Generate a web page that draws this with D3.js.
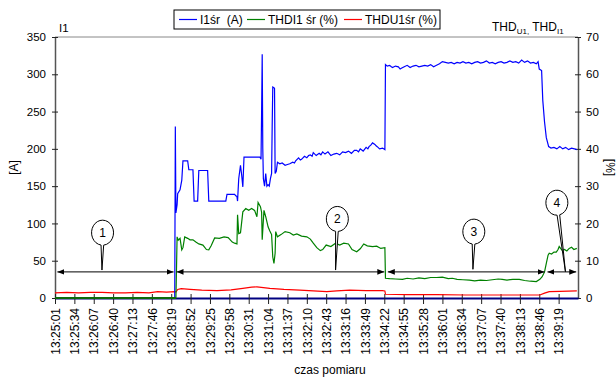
<!DOCTYPE html>
<html>
<head>
<meta charset="utf-8">
<script src="https://cdn.jsdelivr.net/npm/d3@7"></script>
<style>
  body { margin: 0; background: #fff; }
  svg { font-family: "Liberation Sans", Arial, sans-serif; }
  .axis text { font-size: 11.5px; fill: #000; }
  .xaxis text { font-size: 12px; }
</style>
</head>
<body>
<div id="chart"></div>
<script>
// seconds since 13:25:01, label every 33 s
const timeLabels = ['13:25:01','13:25:34','13:26:07','13:26:40','13:27:13','13:27:46','13:28:19',
  '13:28:52','13:29:25','13:29:58','13:30:31','13:31:04','13:31:37','13:32:10','13:32:43',
  '13:33:16','13:33:49','13:34:22','13:34:55','13:35:28','13:36:01','13:36:34','13:37:07',
  '13:37:40','13:38:13','13:38:46','13:39:19'];
const tickStep = 33;
const xMax = 891;

// I1 [s, A]
const i1Data = [[0,0],[204,0],[205,230],[206,114],[208,125],[209,140],[213,145],[216,158],[218,184],
  [221,184],[226,184],[228,172],[235,172],[237,130],[243,130],[245,171],[260,171],[262,130],[291,130],
  [293,139],[306,139],[308,137],[310,136],[311,130],[313,160],[316,178],[318,165],[320,149],[322,189],
  [335,189],[349,189],[351,186],[352,250],[353,327],[354,200],[355,160],[357,150],[359,167],[361,150],
  [363,152],[365,150],[367,160],[369,167],[370,230],[371,283],[373,282],[374,281],[375,167],[377,170],
  [379,182],[383,180],[387,181],[392,178],[396,179],[400,180],[405,182],[408,181],[410,184],[415,188],
  [418,185],[420,186],[425,190],[429,188],[432,191],[435,192],[438,190],[440,195],[445,191],[450,194],
  [453,192],[456,196],[460,193],[465,196],[470,191],[475,193],[480,194],[485,192],[490,196],[495,195],
  [500,197],[505,194],[510,198],[514,198],[517,196],[520,200],[525,197],[530,202],[533,200],[535,203],
  [538,205],[541,208],[545,206],[547,204],[549,203],[553,200],[558,201],[562,199],[563,313],[566,311],
  [570,312],[573,310],[575,309],[580,311],[585,310],[588,307],[590,308],[595,310],[600,312],[605,309],
  [610,311],[615,312],[620,310],[625,311],[630,312],[635,311],[640,313],[645,310],[650,312],[655,314],
  [660,317],[665,316],[670,315],[675,316],[680,314],[685,316],[690,315],[695,317],[700,315],[705,316],
  [710,314],[715,316],[720,317],[725,315],[730,316],[735,318],[740,315],[745,316],[750,314],[755,316],
  [760,317],[765,315],[770,316],[775,318],[780,316],[785,317],[790,315],[795,319],[800,316],[805,318],
  [810,315],[815,316],[820,314],[823,317],[825,307],[829,305],[831,265],[834,236],[837,215],[841,203],
  [845,201],[850,202],[855,200],[860,203],[865,200],[870,202],[875,199],[880,201],[885,200],[889,199]];

// THDI1 [s, %]
const thdiData = [[0,0],[206,0],[207,8],[208,16.4],[210,15.5],[213,16.0],[216,12.9],[218,13.5],[221,16.4],
  [226,16],[230,15.6],[235,15.6],[240,15],[245,14.5],[252,14.2],[258,13],[262,12.9],[266,14],[272,16.1],
  [280,16],[288,16.4],[295,16.2],[302,15],[306,14.7],[310,14.5],[311,22.3],[313,17.3],[316,17.5],
  [320,23.1],[325,24],[330,23.5],[335,24],[340,23.5],[344,21.8],[346,25.6],[350,24.5],[352,23],
  [353,15.6],[356,23.5],[359,21.8],[363,19.1],[366,18],[369,17],[371,11],[373,9.3],[375,12],[376,17.8],
  [379,16.4],[385,17],[392,17.8],[400,17.5],[406,16.9],[412,17.2],[420,16.6],[429,16.4],[435,15.8],
  [440,14.7],[446,13.5],[452,12.7],[456,13],[462,14.2],[470,13.8],[478,14.7],[485,14.2],[492,14.7],
  [500,14.5],[506,13],[514,12.4],[520,13.2],[526,14.5],[532,14],[541,13.8],[548,13.9],[555,13.3],
  [562,13.5],[563,5.3],[570,5.2],[580,5.1],[592,5.0],[600,5.3],[610,5.1],[620,5.4],[630,5.2],[640,5.5],
  [650,5.5],[660,5.6],[670,5.2],[677,5.3],[685,5.0],[695,4.9],[706,4.8],[715,4.6],[725,4.8],[735,4.7],
  [745,4.9],[755,5.1],[762,5.0],[770,4.8],[780,5.0],[791,5.0],[800,4.7],[810,4.5],[820,4.4],[826,5.0],
  [830,5.7],[834,7],[837,9.3],[840,11.5],[842,12.0],[846,11.8],[850,12.3],[854,12.3],[857,13],
  [859,13.8],[862,13.2],[864,12.8],[868,13],[872,12.6],[876,13.3],[880,13.6],[884,13],[889,13.3]];

// THDU1 [s, %]
const thduData = [[0,1.4],[20,1.5],[40,1.4],[60,1.5],[80,1.5],[100,1.4],[120,1.4],[140,1.5],[160,1.4],
  [175,1.7],[190,1.6],[204,1.7],[206,1.6],[209,2.3],[215,2.5],[230,2.3],[250,2.1],[276,2.0],[300,2.2],
  [320,2.6],[335,2.9],[344,3.0],[355,2.8],[366,2.6],[390,2.3],[417,2.1],[440,1.9],[463,1.7],[480,1.9],
  [502,2.1],[530,2.0],[558,2.0],[562,1.9],[563,1.0],[600,0.9],[650,0.9],[700,0.8],[750,0.8],[800,0.8],
  [826,0.8],[834,1.3],[842,1.7],[860,1.8],[889,1.9]];

const legendNames = ['I1śr  (A)', 'THDI1 śr (%)', 'THDU1śr (%)'];
const seriesColors = ['#0000ff', '#008000', '#ff0000'];

// measurement stages: [start s, end s]
const segments = [[4, 202], [207, 561], [567, 834], [839, 888]];
const arrowLevel = 35; // A
// callouts: label, centre [s, A], tip [s, A]
const callouts = [
  {label: '1', c: [81, 87.6], tip: [80, 37.5]},
  {label: '2', c: [481, 106], tip: [478, 37.5]},
  {label: '3', c: [713.5, 89], tip: [712, 38.5]},
  {label: '4', c: [855, 127.8], tip: [869.6, 35.3]}
];

const W = 616, H = 378;
const m = {left: 55, right: 38, top: 37, bottom: 80};

const svg = d3.select('#chart').append('svg').attr('width', W).attr('height', H);

const x = d3.scaleLinear().domain([0, xMax]).range([m.left, W - m.right]);
const y = d3.scaleLinear().domain([0, 350]).range([H - m.bottom, m.top]);
const y2 = d3.scaleLinear().domain([0, 70]).range([H - m.bottom, m.top]);

// top border
svg.append('line')
  .attr('x1', x(0)).attr('x2', x(xMax))
  .attr('y1', m.top).attr('y2', m.top)
  .attr('stroke', '#888').attr('stroke-width', 1);

// left axis
const gl = svg.append('g').attr('class', 'axis')
  .attr('transform', `translate(${m.left},0)`)
  .call(d3.axisLeft(y).tickValues(d3.range(0, 351, 50)).tickSizeInner(3).tickSizeOuter(0).tickPadding(6));
gl.select('.domain').attr('stroke', '#555').attr('stroke-width', 1.5);
gl.selectAll('.tick line').attr('x1', 3).attr('stroke', '#222');

// right axis
const gr = svg.append('g').attr('class', 'axis')
  .attr('transform', `translate(${W - m.right},0)`)
  .call(d3.axisRight(y2).tickValues(d3.range(0, 71, 10)).tickSizeInner(3).tickSizeOuter(0).tickPadding(5));
gr.select('.domain').attr('stroke', '#555').attr('stroke-width', 1.5);
gr.selectAll('.tick line').attr('x1', -3).attr('stroke', '#222');

// bottom axis
const gb = svg.append('g').attr('class', 'axis xaxis')
  .attr('transform', `translate(0,${H - m.bottom})`)
  .call(d3.axisBottom(x)
    .tickValues(timeLabels.map((d, i) => i * tickStep))
    .tickFormat((d, i) => timeLabels[i])
    .tickSizeInner(6).tickSizeOuter(0));
gb.select('.domain').attr('stroke', '#000080').attr('stroke-width', 2.2);
gb.selectAll('.tick line').attr('y1', -4).attr('stroke', '#222');
gb.selectAll('.tick text')
  .attr('transform', 'rotate(-90)')
  .attr('x', -10).attr('y', 0).attr('dy', '0.35em')
  .style('text-anchor', 'end');

// series
const lineA = d3.line().x(d => x(d[0])).y(d => y(d[1]));
const lineP = d3.line().x(d => x(d[0])).y(d => y2(d[1]));

svg.append('path').datum(thduData)
  .attr('d', lineP).attr('fill', 'none')
  .attr('stroke', seriesColors[2]).attr('stroke-width', 1.2);
svg.append('path').datum(i1Data.filter(d => d[0] >= 204))
  .attr('d', lineA).attr('fill', 'none')
  .attr('stroke', seriesColors[0]).attr('stroke-width', 1.2);
svg.append('path').datum(thdiData)
  .attr('d', lineP).attr('fill', 'none')
  .attr('stroke', seriesColors[1]).attr('stroke-width', 1.2);
// green sits on the base line in stage 1
svg.append('line')
  .attr('x1', x(0)).attr('x2', x(206))
  .attr('y1', y2(0)).attr('y2', y2(0))
  .attr('stroke', '#0a6a0a').attr('stroke-width', 2.2);

// arrows
const defs = svg.append('defs');
defs.append('marker').attr('id', 'arrEnd')
  .attr('viewBox', '0 0 10 10').attr('refX', 10).attr('refY', 5)
  .attr('markerWidth', 7).attr('markerHeight', 7).attr('markerUnits', 'userSpaceOnUse')
  .attr('orient', 'auto')
  .append('path').attr('d', 'M0,1 L10,5 L0,9 Z').attr('fill', '#000');
defs.append('marker').attr('id', 'arrStart')
  .attr('viewBox', '0 0 10 10').attr('refX', 0).attr('refY', 5)
  .attr('markerWidth', 7).attr('markerHeight', 7).attr('markerUnits', 'userSpaceOnUse')
  .attr('orient', 'auto')
  .append('path').attr('d', 'M10,1 L0,5 L10,9 Z').attr('fill', '#000');

svg.selectAll('.seg')
  .data(segments)
  .join('line')
  .attr('class', 'seg')
  .attr('x1', d => x(d[0])).attr('x2', d => x(d[1]))
  .attr('y1', y(arrowLevel)).attr('y2', y(arrowLevel))
  .attr('stroke', '#000').attr('stroke-width', 1)
  .attr('marker-start', 'url(#arrStart)')
  .attr('marker-end', 'url(#arrEnd)');

// callout balloons
const rx = 11, ry = 12.5, half = 0.12;
function balloon(d) {
  const cx = x(d.c[0]), cy = y(d.c[1]);
  const tx = x(d.tip[0]), ty = y(d.tip[1]);
  const a = Math.atan2((ty - cy) / ry, (tx - cx) / rx);
  const p1 = [cx + rx * Math.cos(a - half), cy + ry * Math.sin(a - half)];
  const p2 = [cx + rx * Math.cos(a + half), cy + ry * Math.sin(a + half)];
  return `M${p1[0]},${p1[1]} A${rx},${ry} 0 1 0 ${p2[0]},${p2[1]} L${tx},${ty} Z`;
}
const cg = svg.selectAll('.callout').data(callouts).join('g').attr('class', 'callout');
cg.append('path')
  .attr('d', balloon)
  .attr('fill', '#fff').attr('stroke', '#000').attr('stroke-width', 1);
cg.append('text')
  .attr('x', d => x(d.c[0])).attr('y', d => y(d.c[1]))
  .attr('dy', '0.36em')
  .attr('text-anchor', 'middle')
  .style('font-size', '12px')
  .text(d => d.label);

// axis titles
svg.append('text').attr('x', 59).attr('y', 32).style('font-size', '11.5px').text('I1');
const thd = svg.append('text').attr('x', 492).attr('y', 31).style('font-size', '12px');
thd.append('tspan').text('THD');
thd.append('tspan').attr('dy', 3).style('font-size', '8px').text('U1,');
thd.append('tspan').attr('dy', -3).text(' THD');
thd.append('tspan').attr('dy', 3).style('font-size', '8px').text('I1');

svg.append('text')
  .attr('transform', `translate(18,${(y(0) + y(350)) / 2}) rotate(-90)`)
  .attr('text-anchor', 'middle').style('font-size', '12px').text('[A]');
svg.append('text')
  .attr('transform', `translate(606,${(y(0) + y(350)) / 2}) rotate(90)`)
  .attr('text-anchor', 'middle').style('font-size', '12px').text('[%]');
svg.append('text')
  .attr('x', 330).attr('y', 374)
  .attr('text-anchor', 'middle').style('font-size', '12px').text('czas pomiaru');

// legend
const lg = svg.append('g').attr('transform', 'translate(174,10)');
lg.append('rect').attr('width', 266).attr('height', 19)
  .attr('fill', '#fff').attr('stroke', '#000').attr('stroke-width', 1);
const legendX = [5, 73, 170];
legendNames.forEach((name, i) => {
  lg.append('line')
    .attr('x1', legendX[i]).attr('x2', legendX[i] + 18)
    .attr('y1', 9.5).attr('y2', 9.5)
    .attr('stroke', seriesColors[i]).attr('stroke-width', 1.2);
  lg.append('text')
    .attr('x', legendX[i] + 21).attr('y', 13.5)
    .style('font-size', '12px')
    .style('white-space', 'pre')
    .text(name);
});
</script>
</body>
</html>
